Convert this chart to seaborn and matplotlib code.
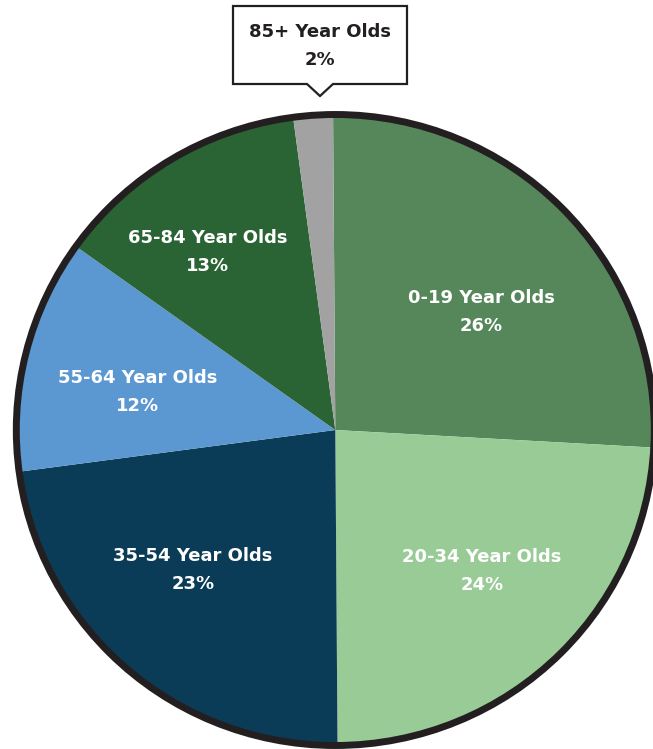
import matplotlib
matplotlib.use("Agg")
import matplotlib.pyplot as plt
import seaborn as sns
from matplotlib.patches import Circle, Polygon

sns.set_theme(style="white")
plt.rcParams['font.family'] = ['DejaVu Sans']

categories = ["0-19 Year Olds", "20-34 Year Olds", "35-54 Year Olds",
              "55-64 Year Olds", "65-84 Year Olds", "85+ Year Olds"]
values = [26, 24, 23, 12, 13, 2]
colors = ["#55875b", "#98cb96", "#0a3c58", "#5b97d0", "#2b6434", "#a2a2a2"]

W, H = 653, 749
KY = 0.989  # slight vertical squash of the reference pie


def Y(py):
    return (H - py) / KY


fig = plt.figure(figsize=(W / 100, H / 100), dpi=100)
ax = fig.add_axes([0, 0, 1, 1])

cx, cy, r = 335.3, Y(430), 319
wedges, _ = ax.pie(values, colors=colors, startangle=90.4, counterclock=False,
                   center=(cx, cy), radius=r, frame=True,
                   wedgeprops=dict(linewidth=0))
ax.add_patch(Circle((cx, cy), r, fill=False, edgecolor="#231f20", linewidth=5.0, zorder=5))

label_pos = [(481, 312), (482, 571), (193, 570), (138, 392), (208, 252)]
for name, v, (px, py) in zip(categories[:5], values[:5], label_pos):
    ax.text(px, Y(py), f"{name}\n{v}%", color="white", fontsize=13, fontweight="bold",
            ha="center", va="center", linespacing=1.7, zorder=6)

# callout for 85+
box = [(233, 6), (407, 6), (407, 84), (333, 84), (320, 96), (307, 84), (233, 84)]
ax.add_patch(Polygon([(x, Y(y)) for x, y in box], closed=True, facecolor="white",
                     edgecolor="#231f20", linewidth=1.6, zorder=6))
ax.text(320, Y(46), f"{categories[5]}\n{values[5]}%", color="#231f20", fontsize=13,
        fontweight="bold", ha="center", va="center", linespacing=1.7, zorder=7)

ax.set_xlim(0, W)
ax.set_ylim(0, H / KY)
ax.set_aspect("auto")
ax.axis("off")
fig.savefig("out.png", dpi=100)
